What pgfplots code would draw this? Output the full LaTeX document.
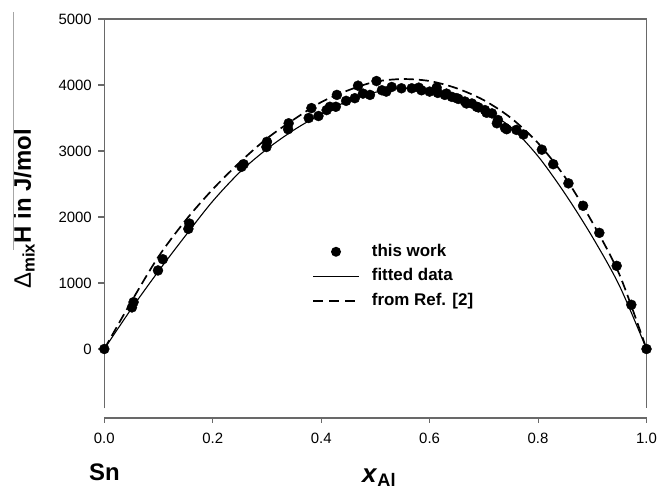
\documentclass[border=0pt]{standalone}
\usepackage{pgfplots}
\pgfplotsset{compat=1.18}
\usepackage{fontspec}
\setmainfont{Liberation Sans}
\definecolor{axgray}{RGB}{105,105,105}
\pgfplotsset{
  lineleg/.style={legend image code/.code={\draw[##1] (0bp,0bp) -- (46bp,0bp);}},
  markleg/.style={legend image code/.code={\fill[black, draw=none] (23bp,0bp) circle (5bp); \path[draw=none] (0bp,0bp) (46bp,0bp);}},
}

\begin{document}
\begin{tikzpicture}
\begin{axis}[
  scale only axis, width=542.2bp, height=389.4bp,
  at={(104.3bp,81.6bp)}, anchor=south west,
  xmin=0, xmax=1, ymin=-900, ymax=5000,
  axis x line=none, axis y line*=left,
  axis line style={draw=axgray, line width=1.3bp},
  ytick={0,1000,2000,3000,4000,5000},
  tick align=outside, major tick length=6bp,
  every tick/.style={draw=axgray, line width=1.1bp},
  /pgf/number format/assume math mode=true,
  /pgf/number format/set thousands separator={},
  tick label style={font=\fontsize{15}{18}\selectfont},
  yticklabel style={xshift=-3bp},
  clip=false,
  legend style={at={(rel axis cs:0.383,0.422)}, anchor=north west, draw=none, fill=none,
    inner sep=0pt, row sep=9.5bp,
    nodes={inner sep=0pt, text height=12bp, text depth=3bp, font=\fontsize{17}{20}\selectfont\bfseries},
    /tikz/every odd column/.append style={column sep=12bp}},
  legend cell align=left,
]
\addplot[black, line width=1.1bp, smooth, forget plot] coordinates {
(0,0) (0.05,610) (0.1,1180) (0.15,1720) (0.2,2240) (0.25,2680) (0.3,3030) (0.35,3320)
(0.4,3560) (0.45,3760) (0.5,3890) (0.55,3950) (0.6,3920) (0.65,3810) (0.7,3620)
(0.75,3360) (0.8,2920) (0.85,2350) (0.9,1700) (0.95,960) (1.0,0)};
\addplot[black, line width=1.7bp, dash pattern=on 10bp off 5bp, smooth, forget plot] coordinates {
(0,0) (0.05,720) (0.1,1400) (0.15,1950) (0.2,2420) (0.25,2830) (0.3,3190) (0.35,3480)
(0.4,3740) (0.45,3920) (0.5,4050) (0.55,4090) (0.6,4060) (0.65,3950) (0.7,3770)
(0.75,3500) (0.8,3120) (0.85,2600) (0.9,1920) (0.95,1130) (1.0,0)};
\addplot[only marks, mark=*, mark size=5bp, black, forget plot] coordinates {
(0,0) (0.051,630) (0.054,710) (0.099,1190) (0.108,1360) (0.155,1820) (0.157,1900)
(0.253,2760) (0.257,2800) (0.299,3060) (0.300,3140) (0.339,3330) (0.340,3420)
(0.377,3500) (0.382,3650) (0.395,3530) (0.41,3620) (0.416,3670) (0.427,3670) (0.429,3850)
(0.446,3760) (0.462,3800) (0.468,3990) (0.477,3870) (0.49,3850) (0.502,4060)
(0.512,3920) (0.52,3900) (0.53,3970) (0.548,3950) (0.567,3950) (0.58,3960) (0.585,3920)
(0.60,3900) (0.613,3960) (0.615,3880) (0.628,3850) (0.631,3870) (0.641,3820) (0.65,3800)
(0.653,3790) (0.665,3750) (0.668,3720) (0.678,3720) (0.687,3670) (0.69,3660) (0.702,3620)
(0.705,3580) (0.715,3570) (0.724,3420) (0.726,3470) (0.739,3350) (0.742,3330)
(0.76,3320) (0.773,3250) (0.807,3020) (0.828,2800) (0.856,2510) (0.883,2170)
(0.913,1760) (0.945,1260) (0.972,670) (1.0,0)};
\addlegendimage{black, markleg}
\addlegendentry{this work}
\addlegendimage{black, line width=1.1bp, lineleg}
\addlegendentry{fitted data}
\addlegendimage{black, line width=1.7bp, dash pattern=on 10bp off 6bp, lineleg}
\addlegendentry{from Ref. [2]}
\draw[axgray, line width=1.3bp] (rel axis cs:0,1) -- (rel axis cs:1,1) -- (rel axis cs:1,0);
\end{axis}
\begin{axis}[
  scale only axis, width=542.2bp, height=10bp,
  at={(104.3bp,72bp)}, anchor=south west,
  xmin=0, xmax=1, ymin=0, ymax=1,
  axis x line*=bottom, axis y line=none,
  axis line style={draw=axgray, line width=1.3bp},
  xtick={0,0.2,0.4,0.6,0.8,1}, ytick=\empty,
  tick align=outside, major tick length=5bp,
  every tick/.style={draw=axgray, line width=1.1bp},
  /pgf/number format/assume math mode=true,
  xticklabel={\pgfmathprintnumber[fixed, fixed zerofill, precision=1]{\tick}},
  tick label style={font=\fontsize{15}{18}\selectfont},
  xticklabel style={yshift=-7bp},
]
\addplot[draw=none] coordinates {(0.5,0.5)};
\end{axis}
\node[rotate=90, font=\fontsize{24}{28}\selectfont\bfseries] at (24bp,281bp)
  {{\mdseries Δ}\textsubscript{mix}H in J/mol};
\node[anchor=base, font=\fontsize{24}{28}\selectfont\bfseries] at (104.5bp,10bp) {Sn};
\node[anchor=base west, font=\fontsize{26}{30}\selectfont\bfseries, inner sep=0pt] at (362bp,8bp)
  {\textit{x}\textsubscript{Al}};
\draw[gray!70, line width=1bp] (13bp,478bp) -- (13bp,240bp);
\pgfresetboundingbox
\path[use as bounding box] (0bp,0bp) rectangle (657bp,490bp);
\end{tikzpicture}
\end{document}
